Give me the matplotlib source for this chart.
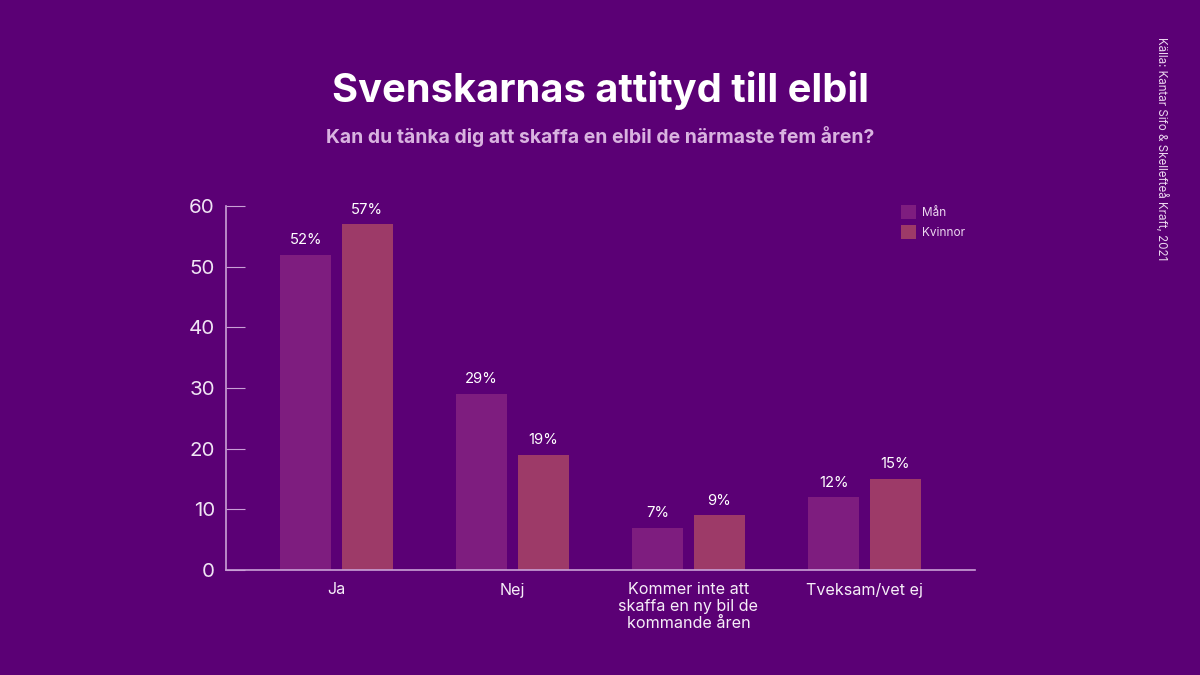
import matplotlib
matplotlib.use('Agg')
import matplotlib.pyplot as plt
import numpy as np
from matplotlib.patches import Rectangle

categories = ['Ja', 'Nej', 'Kommer inte att\nskaffa en ny bil de\nkommande åren', 'Tveksam/vet ej']
man = [52, 29, 7, 12]
kvinnor = [57, 19, 9, 15]
yticks = [0, 10, 20, 30, 40, 50, 60]

BG = '#5b0075'
MAN_COL = '#7e1d7f'
KV_COL = '#9d3a68'
AXIS_COL = '#c9a0d6'
W, H = 1200, 675

plt.rcParams['font.family'] = ['Inter', 'DejaVu Sans']

fig = plt.figure(figsize=(12, 6.75), dpi=100, facecolor=BG)
ax = fig.add_axes([226/W, 1 - 570/H, (975 - 226)/W, (570 - 206)/H], facecolor=BG)

x = np.arange(len(categories))
bar_w = 0.287
off = 0.175
ax.bar(x - off, man, bar_w, color=MAN_COL, label='Mån')
ax.bar(x + off, kvinnor, bar_w, color=KV_COL, label='Kvinnor')

# value labels above the bars
for i in x:
    ax.annotate(f'{man[i]}%', (i - off, man[i]), xytext=(0, 5.5), textcoords='offset points',
                ha='center', va='bottom', color='white', fontsize=10.7)
    ax.annotate(f'{kvinnor[i]}%', (i + off, kvinnor[i]), xytext=(0, 5.5), textcoords='offset points',
                ha='center', va='bottom', color='white', fontsize=10.7)

# axis limits nudged half a pixel so the bars land where the reference has them
ax.set_xlim(-0.628, 3.628)
ax.set_ylim(0, 60)
ax.set_yticks(yticks)
ax.set_xticks(x)
ax.set_xticklabels(categories, linespacing=1.15)
ax.tick_params(axis='y', direction='in', length=14, width=0.8, color=AXIS_COL,
               labelcolor='#f0e4f4', labelsize=14.8, pad=8)
ax.tick_params(axis='x', length=0, labelcolor='#f6eef8', labelsize=11.6, pad=9)
for side in ['top', 'right']:
    ax.spines[side].set_visible(False)
for side in ['left', 'bottom']:
    ax.spines[side].set_color(AXIS_COL)
    ax.spines[side].set_linewidth(1.2)

# hand placed legend, the squares sit apart from the text
for y, col, name in [(212, MAN_COL, 'Mån'), (232, KV_COL, 'Kvinnor')]:
    fig.add_artist(Rectangle((901/W, 1 - (y + 7)/H), 15/W, 14/H, transform=fig.transFigure,
                             color=col, lw=0))
    fig.text(922/W, 1 - (y + 1)/H, name, color='#ecd8f0', fontsize=8.5, ha='left', va='center')

fig.text(600/W, 1 - 90/H, 'Svenskarnas attityd till elbil', color='white', fontsize=28.7,
         fontweight='bold', ha='center', va='center')
fig.text(600/W, 1 - 137/H, 'Kan du tänka dig att skaffa en elbil de närmaste fem åren?',
         color='#d9b3e0', fontsize=13.95, fontweight='bold', ha='center', va='center')
fig.text(1162/W, 1 - 37/H, 'Källa: Kantar Sifo & Skellefteå Kraft, 2021', color='#ecd8f0',
         fontsize=8.3, rotation=270, ha='center', va='top')

fig.savefig('out.png', dpi=100, facecolor=BG)
